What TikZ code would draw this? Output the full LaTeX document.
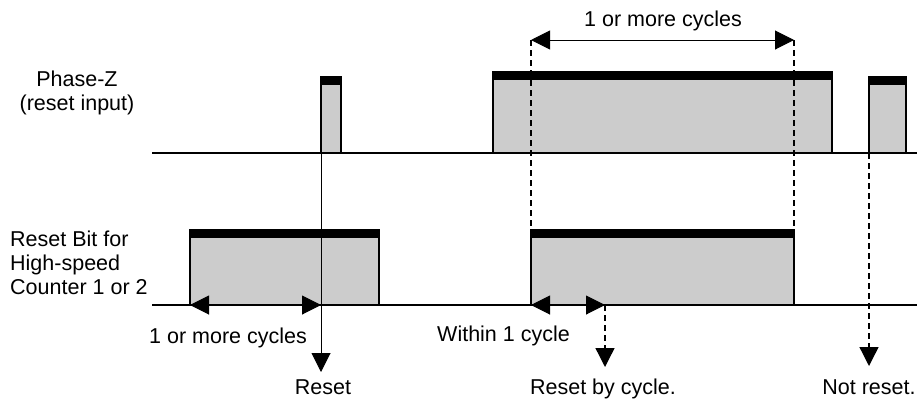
\documentclass[tikz,border=0pt]{standalone}
\usepackage{fontspec}
\setmainfont{Liberation Sans}
\usetikzlibrary{arrows.meta}
\definecolor{pulsegray}{RGB}{204,204,204}
\begin{document}
\begin{tikzpicture}[x=1pt,y=-1pt,
  lbl/.style={font=\fontsize{21.5}{24}\selectfont, inner sep=0pt},
  baseline line/.style={line width=1.6pt},
  pulse edge/.style={line width=1.8pt, line join=miter},
  tip/.style={-{Triangle[length=19pt,width=19pt]}},
  dimarrow/.style={{Triangle[length=19pt,width=19pt]}-{Triangle[length=19pt,width=19pt]}, line width=1pt},
  guide/.style={dash pattern=on 6pt off 4pt, line width=1.3pt}]
\useasboundingbox (0,0) rectangle (917,400);
\newcommand{\pulseshape}[4]{% x1, x2, top, base
  \fill[pulsegray] (#1,#3) rectangle (#2,#4);
  \draw[pulse edge] (#1,#4) -- (#1,#3) -- (#2,#3) -- (#2,#4);
  \fill[black] (#1-0.9,#3-0.9) rectangle (#2+0.9,#3+8);
}
% Phase-Z signal
\pulseshape{321}{341}{77}{153}
\pulseshape{493}{832}{72}{153}
\pulseshape{869}{906}{77}{153}
\draw[baseline line] (152,153) -- (917,153);
% Reset bit signal
\pulseshape{190}{379}{230}{305}
\pulseshape{531}{794}{230}{305}
\draw[baseline line] (152,305) -- (917,305);

% labels
\node[lbl, align=center, anchor=base] (pz) at (77,110.5) {Phase-Z\\(reset input)};
\node[lbl, align=left, anchor=north west] (rb) at (10,231) {Reset Bit for\\High-speed\\Counter 1 or 2};
\node[lbl, anchor=base] (t1) at (663,26) {1 or more cycles};
\node[lbl, anchor=base] (t2) at (228,343) {1 or more cycles};
\node[lbl, anchor=base west] (t3) at (437,341.5) {Within 1 cycle};
\node[lbl, anchor=base] (r1) at (323,394) {Reset};
\node[lbl, anchor=base] (r2) at (603,394) {Reset by cycle.};
\node[lbl, anchor=base] (r3) at (869,394) {Not reset.};

% coordinates
\coordinate (dl) at (531,40);
\coordinate (dr) at (794,40);
\coordinate (dlb) at (531,230);
\coordinate (drb) at (794,230);
\coordinate (a1) at (190,305);
\coordinate (a2) at (321,305);
\coordinate (zs) at (321,153);
\coordinate (ze) at (321,372);
\coordinate (w1) at (531,305);
\coordinate (w2) at (605,305);
\coordinate (we) at (605,367);
\coordinate (ns) at (869,153);
\coordinate (ne) at (869,366);

% dimension and guide lines
\draw[guide] (dl) -- (dlb);
\draw[guide] (dr) -- (drb);
\draw[dimarrow] (dl) -- (dr);
\draw[dimarrow] (a1) -- (a2);
\draw[dimarrow] (w1) -- (w2);
\draw[line width=1pt, tip] (zs) -- (ze);
\draw[guide, tip] (w2) -- (we);
\draw[guide, tip] (ns) -- (ne);
\end{tikzpicture}
\end{document}
